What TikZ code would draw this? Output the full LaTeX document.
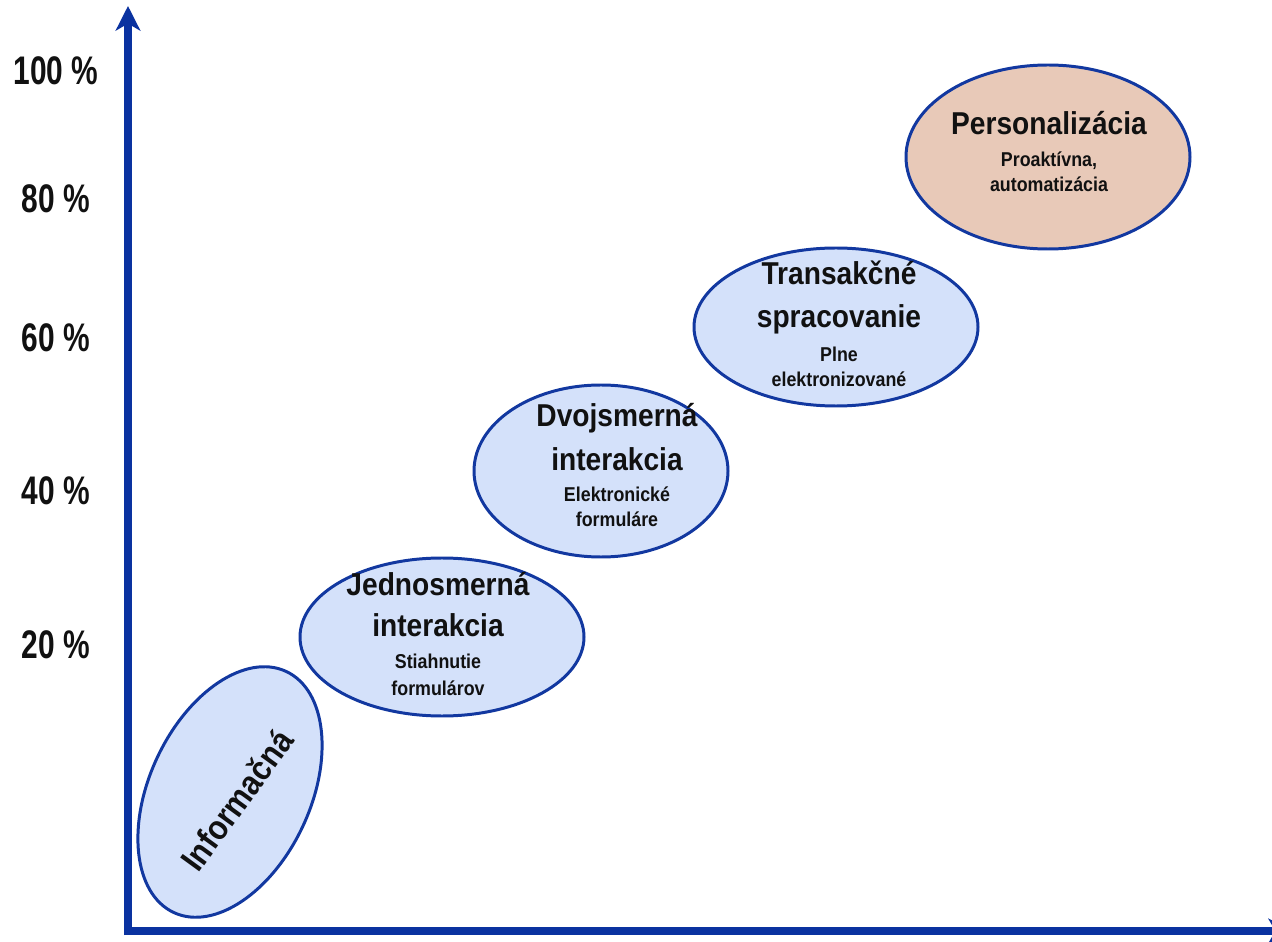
\documentclass[tikz,border=0pt]{standalone}
\usepackage{fontspec}
\setmainfont{Liberation Sans}
\newfontfamily\tfont[FakeStretch=0.89]{Liberation Sans}
\newfontfamily\yfont[FakeStretch=0.75]{Liberation Sans}
\usetikzlibrary{arrows.meta,shapes.geometric}
\definecolor{axisblue}{HTML}{0A32A0}
\definecolor{edgeblue}{HTML}{1238A0}
\definecolor{stageblue}{HTML}{D4E1FA}
\definecolor{stagepeach}{HTML}{E8C9B8}
\definecolor{ink}{HTML}{111111}
\tikzset{
  axis/.style={draw=axisblue, line width=4pt, -{Stealth[length=14pt,width=14pt,inset=4pt]}},
  stage/.style={ellipse, draw=edgeblue, line width=1.7pt, fill=stageblue, inner sep=0pt},
  ttl/.style={anchor=base, inner sep=0pt, text=ink, font=\tfont\bfseries\fontsize{18}{22}\selectfont},
  sub/.style={anchor=base, inner sep=0pt, text=ink, font=\tfont\bfseries\fontsize{11.4}{14}\selectfont},
  ylab/.style={anchor=base, inner sep=0pt, text=ink, font=\yfont\bfseries\fontsize{22.7}{26}\selectfont}
}
\begin{document}
\begin{tikzpicture}[x=0.02cm,y=-0.02cm]
\useasboundingbox (0,0) rectangle (1272,942);
\clip (0,0) rectangle (1272,942);
\fill[white] (0,0) rectangle (1272,942);
% axes
\coordinate (ybot) at (128,935);
\coordinate (ytip) at (128,6);
\coordinate (xbeg) at (124,931);
\coordinate (xtip) at (1293,931);
\draw[axis] (ybot) -- (ytip);
\draw[axis] (xbeg) -- (xtip);
% y labels
\node[ylab] (l100) at (56,85) {100 \%};
\node[ylab] (l80) at (56,213) {80 \%};
\node[ylab] (l60) at (56,352) {60 \%};
\node[ylab] (l40) at (56,505) {40 \%};
\node[ylab] (l20) at (56,658) {20 \%};
% stage 1
\node[stage, rotate=65, minimum width=266*0.02cm, minimum height=161*0.02cm] (s1) at (230,792) {};
\node[ttl, anchor=center, rotate=54, font=\tfont\bfseries\fontsize{19.5}{22}\selectfont] (s1t) at (237,800) {Informačná};
% stage 2
\node[stage, minimum width=284*0.02cm, minimum height=158*0.02cm] (s2) at (442,637) {};
\node[ttl] (s2a) at (438,596) {Jednosmerná};
\node[ttl] (s2b) at (438,637) {interakcia};
\node[sub] (s2c) at (438,668) {Stiahnutie};
\node[sub] (s2d) at (438,695) {formulárov};
% stage 3
\node[stage, minimum width=254*0.02cm, minimum height=172*0.02cm] (s3) at (601,471) {};
\node[ttl] (s3a) at (617,427) {Dvojsmerná};
\node[ttl] (s3b) at (617,471) {interakcia};
\node[sub] (s3c) at (617,502) {Elektronické};
\node[sub] (s3d) at (617,527) {formuláre};
% stage 4
\node[stage, minimum width=284*0.02cm, minimum height=158*0.02cm] (s4) at (836,327) {};
\node[ttl] (s4a) at (839,285) {Transakčné};
\node[ttl] (s4b) at (839,328) {spracovanie};
\node[sub] (s4c) at (839,362) {Plne};
\node[sub] (s4d) at (839,387) {elektronizované};
% stage 5
\node[stage, fill=stagepeach, minimum width=284*0.02cm, minimum height=184*0.02cm] (s5) at (1048,157) {};
\node[ttl] (s5a) at (1049,135) {Personalizácia};
\node[sub] (s5b) at (1049,167) {Proaktívna,};
\node[sub] (s5c) at (1049,192) {automatizácia};
\end{tikzpicture}
\end{document}
